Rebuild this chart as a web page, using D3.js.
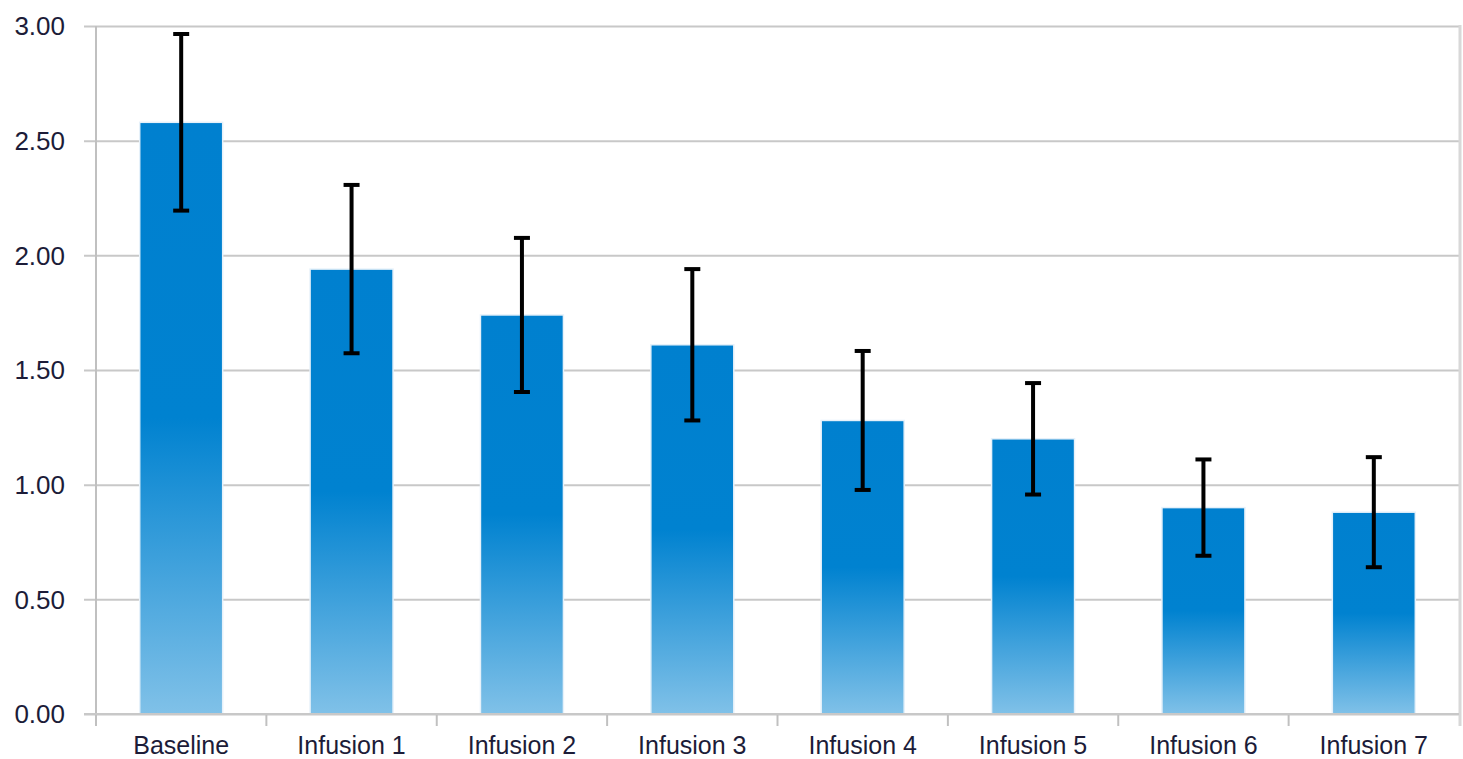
<!DOCTYPE html>
<html>
<head>
<meta charset="utf-8">
<script src="https://cdn.jsdelivr.net/npm/d3@7"></script>
<style>
  body { margin: 0; background: #fff; }
  text { font-family: "Liberation Sans", Arial, sans-serif; }
</style>
</head>
<body>
<div id="chart"></div>
<script>
// chart data
var categories = ["Baseline", "Infusion 1", "Infusion 2", "Infusion 3", "Infusion 4", "Infusion 5", "Infusion 6", "Infusion 7"];
var means = [2.58, 1.94, 1.74, 1.61, 1.28, 1.20, 0.90, 0.88];
var errors = [0.385, 0.367, 0.336, 0.33, 0.303, 0.243, 0.21, 0.24];
var yTicks = [0, 0.5, 1.0, 1.5, 2.0, 2.5, 3.0];

var svgWidth = 1463;
var svgHeight = 759;

var plot = { left: 96, right: 1459, top: 26, bottom: 714 };

var svg = d3.select("#chart")
  .append("svg")
  .attr("width", svgWidth)
  .attr("height", svgHeight);

var x = d3.scaleBand()
  .domain(categories)
  .range([plot.left, plot.right])
  .paddingInner(0.513)
  .paddingOuter(0.2565);

var y = d3.scaleLinear()
  .domain([0, 3])
  .range([plot.bottom, plot.top]);

// gradient for the bars
var grad = svg.append("defs")
  .append("linearGradient")
  .attr("id", "barFill")
  .attr("x1", 0).attr("y1", 0)
  .attr("x2", 0).attr("y2", 1);
grad.append("stop").attr("offset", "0%").attr("stop-color", "#0080cf");
grad.append("stop").attr("offset", "50%").attr("stop-color", "#0082d0");
grad.append("stop").attr("offset", "100%").attr("stop-color", "#80c1e8");

// gridlines + left tick marks
var yAxis = d3.axisLeft(y)
  .tickValues(yTicks)
  .tickSize(-(plot.right - plot.left))
  .tickPadding(0)
  .tickFormat("");

svg.append("g")
  .attr("transform", `translate(${plot.left}, 0)`)
  .call(yAxis)
  .call(g => g.select(".domain").remove())
  .call(g => g.selectAll(".tick line")
    .attr("x1", -12)
    .attr("stroke", "#c8c8c8")
    .attr("stroke-width", 2));

// y labels
svg.append("g")
  .selectAll("text")
  .data(yTicks)
  .enter()
  .append("text")
  .attr("x", 65)
  .attr("y", d => y(d))
  .attr("dy", "0.36em")
  .attr("text-anchor", "end")
  .attr("font-size", 26)
  .attr("fill", "#1c1c38")
  .text(d => d3.format(".2f")(d));

// y axis line
svg.append("line")
  .attr("x1", plot.left).attr("x2", plot.left)
  .attr("y1", plot.top).attr("y2", plot.bottom + 12)
  .attr("stroke", "#c0c0c0")
  .attr("stroke-width", 2);

// right border
svg.append("line")
  .attr("x1", plot.right + 1).attr("x2", plot.right + 1)
  .attr("y1", plot.top - 1).attr("y2", plot.bottom + 12)
  .attr("stroke", "#d8d8d8")
  .attr("stroke-width", 3);

// x tick marks at category boundaries
var step = x.step();
svg.append("g")
  .selectAll("line")
  .data(categories.slice(1))
  .enter()
  .append("line")
  .attr("x1", d => x(d) - (step - x.bandwidth()) / 2)
  .attr("x2", d => x(d) - (step - x.bandwidth()) / 2)
  .attr("y1", plot.bottom)
  .attr("y2", plot.bottom + 12)
  .attr("stroke", "#c0c0c0")
  .attr("stroke-width", 2);

// bars
svg.append("g")
  .selectAll("rect")
  .data(means)
  .enter()
  .append("rect")
  .attr("x", (d, i) => x(categories[i]))
  .attr("y", d => y(d))
  .attr("width", x.bandwidth())
  .attr("height", d => plot.bottom - y(d))
  .attr("fill", "url(#barFill)")
  .attr("stroke", "#e6f1fa")
  .attr("stroke-width", 1.5);

// x axis baseline over bars
svg.append("line")
  .attr("x1", plot.left - 12).attr("x2", plot.right)
  .attr("y1", plot.bottom).attr("y2", plot.bottom)
  .attr("stroke", "#c8c8c8")
  .attr("stroke-width", 2);

// error bars
var errG = svg.append("g")
  .selectAll("g")
  .data(means)
  .enter()
  .append("g")
  .attr("transform", (d, i) => `translate(${x(categories[i]) + x.bandwidth() / 2}, 0)`);

errG.append("line")
  .attr("x1", 0).attr("x2", 0)
  .attr("y1", (d, i) => y(d + errors[i]))
  .attr("y2", (d, i) => y(d - errors[i]))
  .attr("stroke", "#000")
  .attr("stroke-width", 4);

errG.append("line")
  .attr("x1", -8).attr("x2", 8)
  .attr("y1", (d, i) => y(d + errors[i]))
  .attr("y2", (d, i) => y(d + errors[i]))
  .attr("stroke", "#000")
  .attr("stroke-width", 4);

errG.append("line")
  .attr("x1", -8).attr("x2", 8)
  .attr("y1", (d, i) => y(d - errors[i]))
  .attr("y2", (d, i) => y(d - errors[i]))
  .attr("stroke", "#000")
  .attr("stroke-width", 4);

// x labels
svg.append("g")
  .selectAll("text")
  .data(categories)
  .enter()
  .append("text")
  .attr("x", d => x(d) + x.bandwidth() / 2)
  .attr("y", 754)
  .attr("text-anchor", "middle")
  .attr("font-size", 25)
  .attr("fill", "#1c1c38")
  .text(d => d);
</script>
</body>
</html>
